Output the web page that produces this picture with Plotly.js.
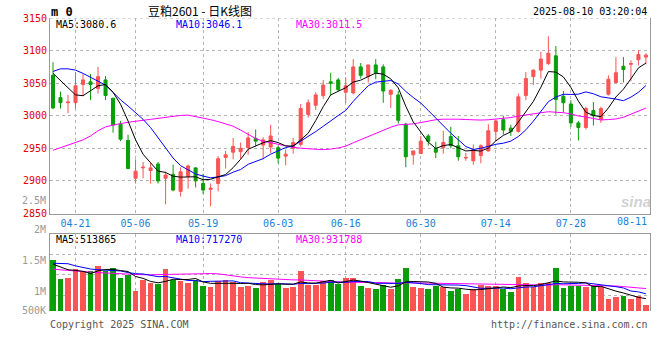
<!DOCTYPE html>
<html><head><meta charset="utf-8">
<script src="https://cdn.plot.ly/plotly-3.0.1.min.js"></script>
<style>html,body{margin:0;padding:0;background:#fff}#chart{width:660px;height:360px}</style>
</head><body><div id="chart"></div>
<script>
const dates = ['04-16','04-17','04-18','04-21','04-22','04-23','04-24','04-25','04-28','04-29',
 '04-30','05-06','05-07','05-08','05-09','05-12','05-13','05-14','05-15','05-16',
 '05-19','05-20','05-21','05-22','05-23','05-26','05-27','05-28','05-29','05-30',
 '06-03','06-04','06-05','06-06','06-09','06-10','06-11','06-12','06-13','06-16',
 '06-17','06-18','06-19','06-20','06-23','06-24','06-25','06-26','06-27','06-30',
 '07-01','07-02','07-03','07-04','07-07','07-08','07-09','07-10','07-11','07-14',
 '07-15','07-16','07-17','07-18','07-21','07-22','07-23','07-24','07-25','07-28',
 '07-29','07-30','07-31','08-01','08-04','08-05','08-06','08-07','08-08','08-11'];
const open = [3062,3028,3020,3020,3048,3052,3042,3055,3027,2987, 2962,2904,2920,2916,2926,2904,2910,2884,2907,2920,
 2896,2887,2896,2936,2944,2945,2951,2965,2955,2952, 2951,2938,2950,2956,3002,3016,3031,3052,3055,3036,
 3035,3075,3060,3078,3075,3033,3032,2987,2940,2942, 2969,2950,2951,2968,2954,2935,2931,2939,2946,2976,
 2994,2981,2976,3031,3060,3070,3080,3092,3030,3018, 2989,2982,3008,2994,3033,3051,3076,3079,3086,3090];
const high = [3082,3037,3032,3067,3064,3064,3075,3061,3027,2992, 2971,2933,2929,2928,2929,2914,2925,2921,2925,2921,
 2911,2896,2938,2946,2966,2959,2975,2979,2967,2986, 2954,2948,2966,3018,3025,3036,3055,3066,3058,3059,
 3087,3081,3078,3087,3079,3041,3038,2989,2946,2969, 2972,2960,2977,2983,2969,2943,2956,2956,2987,2994,
 3000,2986,3034,3067,3071,3098,3122,3107,3038,3024, 2992,3014,3021,3014,3062,3090,3090,3085,3101,3096];
const low = [3010,3011,3004,3011,3030,3024,3034,3024,2974,2961, 2918,2896,2904,2896,2896,2864,2884,2876,2888,2890,
 2880,2861,2884,2919,2933,2934,2940,2953,2933,2943, 2927,2924,2942,2953,2997,3009,3026,3031,3038,3020,
 3033,3057,3051,3056,3020,3012,2988,2921,2925,2942, 2954,2935,2942,2950,2931,2931,2925,2927,2945,2961,
 2971,2969,2974,3024,3047,3057,3078,3002,3005,2983, 2962,2979,2985,2989,3031,3050,3051,3053,3077,3079];
const close = [3012,3020,3021,3046,3055,3048,3060,3031,2986,2964, 2919,2915,2921,2920,2900,2909,2886,2914,2923,2900,
 2886,2889,2934,2940,2953,2950,2966,2961,2963,2969, 2935,2941,2959,3011,3020,3032,3047,3050,3040,3046,
 3075,3062,3078,3066,3038,3039,2993,2937,2946,2961, 2961,2944,2959,2954,2937,2936,2948,2954,2977,2992,
 2978,2976,3029,3057,3070,3087,3096,3025,3020,2989, 2982,3011,3000,3011,3056,3066,3071,3080,3094,3093];
const volume = [2140000,1330000,1390000,1760000,1650000,1670000,1890000,1670000,1800000,1390000,
 1480000,850000,1280000,1160000,1110000,1760000,1300000,1230000,1170000,1310000,
 1050000,1000000,1240000,1290000,1190000,1010000,1050000,970000,1220000,1290000,
 1130000,950000,1010000,1680000,1080000,1080000,1250000,1290000,1130000,1390000,
 1390000,1040000,970000,930000,1080000,930000,1330000,1800000,1010000,970000,
 930000,1050000,1010000,850000,920000,710000,920000,1080000,1040000,1040000,
 920000,780000,1420000,1150000,1010000,1150000,1150000,1800000,950000,1050000,
 1040000,1010000,1040000,1000000,500000,590000,620000,520000,610000,240000];
// MA values at the first candles (their windows start before the visible data)
const ma5Lead = [3065,3054,3043,3032];
const ma10Lead = [3068,3072,3072,3070,3065,3059,3053,3047,3036];
const ma30Lead = [2947,2951,2955,2959,2963,2969,2977,2983,2986,2988,2990,2991,2993,2994.5,2996,2998,3000,3000.5,3001,2999,2996,2994,2991,2988,2984,2978,2971,2965,2961];
const vma5Lead = [1950000,1820000,1720000,1690000];
const vma10Lead = [1990000,1990000,1970000,1880000,1800000,1750000,1720000,1700000,1680000];
const vma30Lead = [1740000,1710000,1680000,1660000,1640000,1620000,1600000,1580000,1560000,1540000,1520000,1510000,1510000,1510000,1520000,1530000,1530000,1540000,1540000,1550000,1550000,1560000,1550000,1500000,1460000,1420000,1390000,1370000,1360000];
const xTickLabels = ['04-21','05-06','05-19','06-03','06-16','06-30','07-14','07-28','08-11'];
const priceTicks = [2850,2900,2950,3000,3050,3100,3150];
const volLabels = ['2.5M','2M','1.5M','1M','500K'];
const priceHeader = ['MA5:3080.6','MA10:3046.1','MA30:3011.5'];
const volHeader = ['MA5:513865','MA10:717270','MA30:931788'];
const titleText = '豆粕2601 - 日K线图';
const timeText = '2025-08-10 03:20:04';

function movingAverage(vals, n, lead) {
  return vals.map((v, i) => {
    if (i < n - 1) return lead[i];
    let s = 0; for (let k = i - n + 1; k <= i; k++) s += vals[k];
    return s / n;
  });
}

const idx = dates.map((d, i) => i);
const RED = '#fb5454', GREEN = '#0a9e0a', MONO = 'DejaVu Sans Mono';
const GRID = '#b4b4b4', AXL = '#9a9a9a', XBLUE = '#1a82d8';
const barColors = close.map((c, i) => c > open[i] ? RED : GREEN);

const traces = [
  {type:'candlestick', x: idx, open: open, high: high, low: low, close: close,
   xaxis:'x', yaxis:'y', whiskerwidth: 0, hoverinfo:'skip', showlegend:false,
   increasing:{line:{color:RED, width:1}, fillcolor:RED},
   decreasing:{line:{color:GREEN, width:1}, fillcolor:GREEN}},
  {type:'scatter', mode:'lines', x: idx, y: movingAverage(close, 30, ma30Lead), xaxis:'x', yaxis:'y', line:{color:'#ff00ff', width:1}},
  {type:'scatter', mode:'lines', x: idx, y: movingAverage(close, 10, ma10Lead), xaxis:'x', yaxis:'y', line:{color:'#0000ff', width:1}},
  {type:'scatter', mode:'lines', x: idx, y: movingAverage(close, 5, ma5Lead), xaxis:'x', yaxis:'y', line:{color:'#000000', width:1}},
  {type:'bar', x: idx, y: volume, xaxis:'x2', yaxis:'y2', width: 0.76, marker:{color: barColors, line:{width:0}}},
  {type:'scatter', mode:'lines', x: idx, y: movingAverage(volume, 30, vma30Lead), xaxis:'x2', yaxis:'y2', line:{color:'#ff00ff', width:1}},
  {type:'scatter', mode:'lines', x: idx, y: movingAverage(volume, 10, vma10Lead), xaxis:'x2', yaxis:'y2', line:{color:'#0000ff', width:1}},
  {type:'scatter', mode:'lines', x: idx, y: movingAverage(volume, 5, vma5Lead), xaxis:'x2', yaxis:'y2', line:{color:'#000000', width:1}}
];

// pixel helpers (plot area spans x 50..650, full height)
const px = x => (x - 50) / 600;
const py = y => 1 - y / 360;
const xRange = [-0.4, 79.54];
const gridTicks = xTickLabels.slice(0, -1).map(d => dates.indexOf(d));
const volMax = 3208000;

const ann = [];
const A = (text, x, y, xanchor, color, size, family) => ann.push({text, x: px(x), y: py(y), xref:'paper', yref:'paper',
  xanchor, yanchor:'middle', showarrow:false, borderpad:0, font:{family: family || MONO, size: size || 10, color}});
A('<b>m 0</b>', 50, 11.5, 'left', '#000', 12);
A(titleText, 200, 10, 'center', '#000', 12, 'Noto Sans CJK SC');
A(timeText, 648, 12, 'right', '#000');
const hdrColors = ['#000000', '#0000ff', '#ff00ff'];
const hdrX = [55, 175, 295];
priceHeader.forEach((t, i) => A(t, hdrX[i], 25, 'left', hdrColors[i]));
volHeader.forEach((t, i) => A(t, hdrX[i], 239.5, 'left', hdrColors[i]));
const volLabelY = [200.7, 229.5, 260.5, 291, 310.5];
volLabels.forEach((t, i) => A(t, 47, volLabelY[i], 'right', '#9a9a9a'));
A(xTickLabels[xTickLabels.length - 1], 648, 221.5, 'right', XBLUE);
A('Copyright 2025 SINA.COM', 49, 324, 'left', '#555');
A('http://finance.sina.com.cn', 649, 324, 'right', '#555');
A('<b><i>sina</i></b>', 636, 201, 'center', 'rgba(170,170,170,0.55)', 15, 'Liberation Sans');

const layout = {
  width:660, height:360, margin:{l:50, r:10, t:0, b:0}, paper_bgcolor:'#fff', plot_bgcolor:'#fff',
  showlegend:false, hovermode:false, boxgap:0.42, bargap:0,
  xaxis:{domain:[0,1], anchor:'y', range:xRange, tickvals:gridTicks, ticktext:xTickLabels.slice(0,-1),
    tickfont:{family:MONO, size:10, color:XBLUE}, ticks:'', showgrid:true, gridcolor:GRID, griddash:'dot', gridwidth:1,
    showline:true, linecolor:AXL, linewidth:1, zeroline:false, rangeslider:{visible:false}, fixedrange:true},
  yaxis:{domain:[py(213.5), py(18)], anchor:'x', range:[2850, 3150], tickvals:priceTicks,
    tickfont:{family:MONO, size:10, color:'#e00000'}, ticks:'', showgrid:true, gridcolor:GRID, griddash:'dot',
    showline:true, mirror:true, linecolor:AXL, zeroline:false, fixedrange:true},
  xaxis2:{domain:[0,1], anchor:'y2', range:xRange, tickvals:gridTicks, showticklabels:false, ticks:'', side:'top',
    showgrid:true, gridcolor:GRID, griddash:'dot', showline:true, linecolor:AXL, zeroline:false, fixedrange:true},
  yaxis2:{domain:[py(311), py(234)], anchor:'x2', range:[0, volMax], tickvals:[654000, 1512000, 2346000],
    showticklabels:false, ticks:'', showgrid:true, gridcolor:GRID, griddash:'dot',
    showline:true, mirror:true, linecolor:AXL, zeroline:false, fixedrange:true},
  shapes:[{type:'line', xref:'paper', yref:'y', x0:0, x1:1, y0:3150, y1:3150, line:{color:GRID, width:1, dash:'dot'}}],
  annotations: ann
};
Plotly.newPlot('chart', traces, layout, {staticPlot:true, displayModeBar:false});
</script>
</body></html>
